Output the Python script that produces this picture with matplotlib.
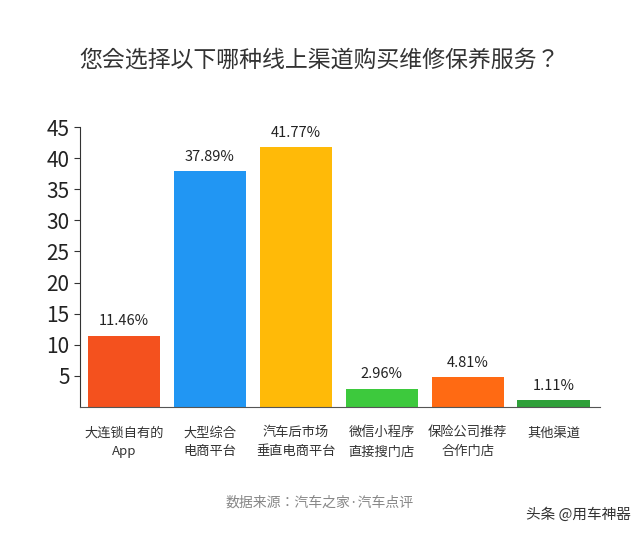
import matplotlib
matplotlib.use("Agg")
import matplotlib.pyplot as plt
from matplotlib import font_manager

names = {f.name for f in font_manager.fontManager.ttflist}
cjk = [n for n in ["Noto Sans CJK SC", "Noto Sans CJK JP", "Noto Sans CJK TC", "Noto Sans CJK KR"] if n in names]
plt.rcParams["font.family"] = "sans-serif"
plt.rcParams["font.sans-serif"] = cjk + ["DejaVu Sans"]

categories = ["大连锁自有的\nApp", "大型综合\n电商平台", "汽车后市场\n垂直电商平台", "微信小程序\n直接搜门店", "保险公司推荐\n合作门店", "其他渠道"]
values = [11.46, 37.89, 41.77, 2.96, 4.81, 1.11]
labels = ["11.46%", "37.89%", "41.77%", "2.96%", "4.81%", "1.11%"]
yticks = [5, 10, 15, 20, 25, 30, 35, 40, 45]
colors = ["#F4511E", "#2196F3", "#FFBA08", "#3DC93D", "#FF6A13", "#2FA03A"]

fig = plt.figure(figsize=(6.4, 5.35), dpi=100)
ax = fig.add_axes([0.125, 0.2393, 0.8125, 0.5233])
x = range(len(values))
ax.bar(x, values, width=0.84, color=colors)
for i, (v, l) in enumerate(zip(values, labels)):
    ax.text(i, v + 1.2, l, ha="center", va="bottom", fontsize=10.5, color="#222222")
ax.set_ylim(0, 45)
ax.set_xlim(-0.51, 5.54)
ax.set_yticks(yticks)
ax.set_yticklabels([str(t) for t in yticks], fontsize=15, color="#222222")
ax.set_xticks(list(x))
ax.set_xticklabels(categories, fontsize=9.5, color="#333333", linespacing=1.6)
for s in ["top", "right"]:
    ax.spines[s].set_visible(False)
ax.spines["left"].set_color("#333333")
ax.spines["bottom"].set_color("#555555")
ax.tick_params(axis="y", length=4, color="#333333")
ax.tick_params(axis="x", length=0, pad=14)

fig.text(0.5, 1 - 60 / 535, "您会选择以下哪种线上渠道购买维修保养服务？", ha="center", va="center", fontsize=16.5, color="#333333")
fig.text(0.5, 1 - 503 / 535, "数据来源：汽车之家·汽车点评", ha="center", va="center", fontsize=10, color="#888888")
fig.text(0.985, 1 - 515 / 535, "头条 @用车神器", ha="right", va="center", fontsize=10.5, color="#333333")
fig.savefig("out.png", dpi=100, facecolor="white")
